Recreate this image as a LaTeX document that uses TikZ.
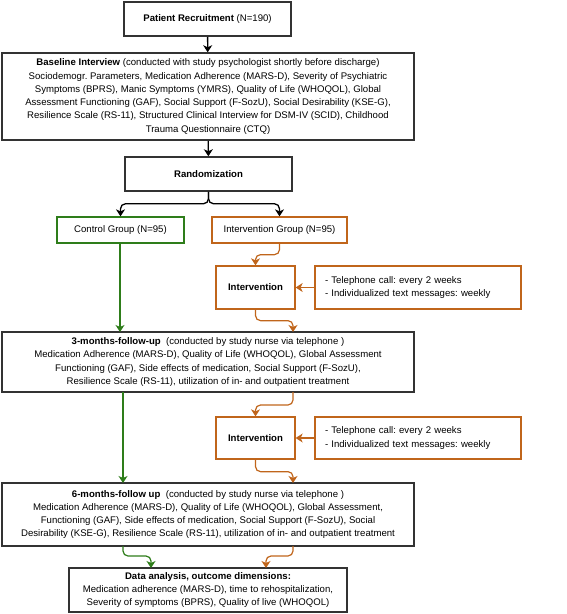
\documentclass[tikz,border=0pt]{standalone}
\usepackage{fontspec}
\setmainfont{Liberation Sans}
\usetikzlibrary{arrows.meta,calc}
\definecolor{grn}{HTML}{2E7D1A}
\definecolor{org}{HTML}{C0651B}
\definecolor{dk}{HTML}{333333}
\frenchspacing
\begin{document}
\begin{tikzpicture}[x=1pt,y=-1pt,
  font=\fontsize{9.6}{13.3}\selectfont,
  box/.style={draw=dk, line width=1.5pt, align=center, inner sep=0pt},
  gbox/.style={draw=grn, line width=1.3pt, align=center, inner sep=0pt},
  obox/.style={draw=org, line width=1.3pt, align=center, inner sep=0pt},
  nbox/.style={draw=org, line width=1.3pt, align=left, inner xsep=10pt, inner ysep=0pt, text width=186pt},
  tipstyle/.style={-{Stealth[width=9pt,length=7pt,inset=2pt]}},
  karr/.style={tipstyle, draw=black, line width=1.3pt, rounded corners=5pt},
  garr/.style={tipstyle, draw=grn, line width=1.2pt, rounded corners=5pt},
  oarr/.style={tipstyle, draw=org, line width=1.2pt, rounded corners=5pt}]
\useasboundingbox (0,0) rectangle (567,614);

\node[box, minimum width=167pt, minimum height=34pt] (pr) at (207.5,19)
  {\textbf{Patient Recruitment} (N=190)};
\node[box, minimum width=412pt, minimum height=87pt] (bl) at (208,96.5)
  {\textbf{Baseline Interview} (conducted with study psychologist shortly before discharge)\\
   Sociodemogr. Parameters, Medication Adherence (MARS-D), Severity of Psychiatric\\
   Symptoms (BPRS), Manic Symptoms (YMRS), Quality of Life (WHOQOL), Global\\
   Assessment Functioning (GAF), Social Support (F-SozU), Social Desirability (KSE-G),\\
   Resilience Scale (RS-11), Structured Clinical Interview for DSM-IV (SCID), Childhood\\
   Trauma Questionnaire (CTQ)};
\node[box, minimum width=167pt, minimum height=34pt] (rd) at (208.5,174)
  {\textbf{Randomization}};
\node[gbox, minimum width=127pt, minimum height=26pt] (cg) at (120.5,230)
  {Control Group (N=95)};
\node[obox, minimum width=135pt, minimum height=26pt] (ig) at (279.5,230)
  {Intervention Group (N=95)};
\node[obox, minimum width=79pt, minimum height=43pt] (i1) at (255.5,287.5)
  {\textbf{Intervention}};
\node[nbox, minimum height=43pt] (n1) at (418,287.5)
  {- Telephone call: every 2 weeks\\- Individualized text messages: weekly};
\node[box, minimum width=412pt, minimum height=60pt] (m3) at (208,362)
  {\textbf{3-months-follow-up}\ \ (conducted by study nurse via telephone )\\
   Medication Adherence (MARS-D), Quality of Life (WHOQOL), Global Assessment\\
   Functioning (GAF), Side effects of medication, Social Support (F-SozU),\\
   Resilience Scale (RS-11), utilization of in- and outpatient treatment};
\node[obox, minimum width=79pt, minimum height=42pt] (i2) at (255.5,438)
  {\textbf{Intervention}};
\node[nbox, minimum height=42pt] (n2) at (418,438)
  {- Telephone call: every 2 weeks\\- Individualized text messages: weekly};
\node[box, minimum width=412pt, minimum height=63pt] (m6) at (208,514.5)
  {\textbf{6-months-follow up}\ \ (conducted by study nurse via telephone )\\
   Medication Adherence (MARS-D), Quality of Life (WHOQOL), Global Assessment,\\
   Functioning (GAF), Side effects of medication, Social Support (F-SozU), Social\\
   Desirability (KSE-G), Resilience Scale (RS-11), utilization of in- and outpatient treatment};
\node[box, minimum width=278pt, minimum height=44pt] (da) at (208,590)
  {\textbf{Data analysis, outcome dimensions:}\\
   Medication adherence (MARS-D), time to rehospitalization,\\
   Severity of symptoms (BPRS), Quality of live (WHOQOL)};

% connector end points on box edges
\coordinate (cgs) at (120,243);
\coordinate (m3gin) at (120,332);
\coordinate (m3in) at (293,332);
\coordinate (m3og) at (293,392);
\coordinate (m3gr) at (123,392);
\coordinate (m6gr) at (123,483);
\coordinate (m6in) at (293,483);
\coordinate (m6og) at (293,546);
\coordinate (m6go) at (123,546);
\coordinate (dag) at (151,568);
\coordinate (dao) at (266,568);

\draw[karr] (pr) -- (bl);
\draw[karr] (bl) -- (rd);
\draw[karr] (rd.south) -- ++(0,12) -| (cg.north);
\draw[karr] (rd.south) -- ++(0,12) -| (ig.north);

\draw[garr] (cgs) -- (m3gin);
\draw[oarr] (ig.south) -- ++(0,11) -| (i1.north);
\draw[oarr] (n1.west) -- (i1.east);
\draw[oarr] (i1.south) -- ++(0,11) -| (m3in);

\draw[garr] (m3gr) -- (m6gr);
\draw[oarr] (m3og) -- ++(0,13) -| (i2.north);
\draw[oarr] (n2.west) -- (i2.east);
\draw[oarr] (i2.south) -- ++(0,12) -| (m6in);

\draw[garr] (m6go) -- ++(0,10) -| (dag);
\draw[oarr] (m6og) -- ++(0,10) -| (dao);
\end{tikzpicture}
\end{document}
